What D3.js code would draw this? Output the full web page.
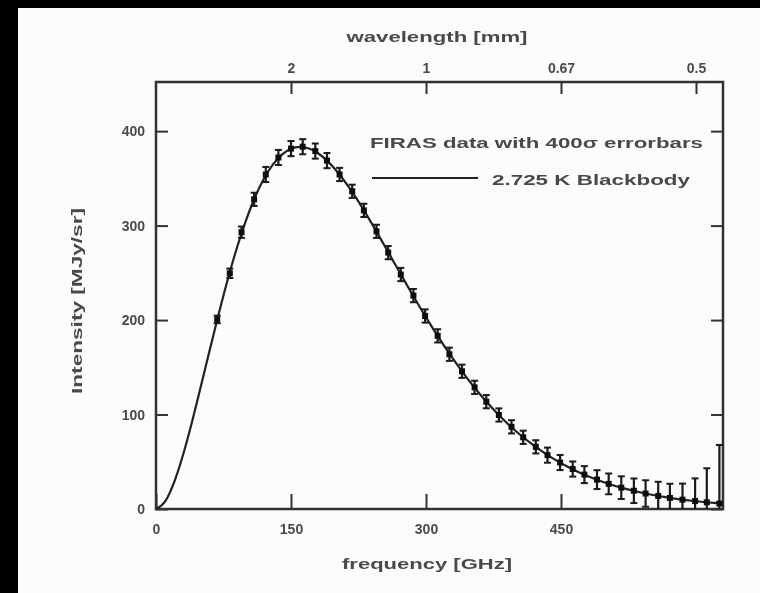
<!DOCTYPE html>
<html>
<head>
<meta charset="utf-8">
<script src="https://cdn.jsdelivr.net/npm/d3@7"></script>
<style>
  body { margin: 0; background: #000; }
  svg { display: block; }
  text { font-family: "Liberation Sans", Arial, sans-serif; font-weight: bold; fill: #4a4a4a; }
</style>
</head>
<body>
<div class="container"></div>
<script>
const width = 760;
const height = 593;
const margin = { top: 82, bottom: 84, left: 156, right: 37 }

// FIRAS points (GHz, MJy/sr) and 400 sigma error bars
const freqGHz = [68, 82, 95, 109, 122, 136, 150, 163, 177, 190, 204, 218, 231, 245, 258, 272, 286, 299, 313, 326, 340, 354, 367, 381, 395, 408, 422, 435, 449, 463, 476, 490, 503, 517, 531, 544, 558, 571, 585, 599, 612, 626];
const intensity = [200.7, 249.5, 293.0, 327.8, 354.1, 372.1, 381.5, 383.5, 378.9, 368.8, 354.1, 336.3, 316.1, 293.9, 271.4, 248.2, 225.9, 204.3, 183.3, 163.8, 145.8, 128.8, 113.6, 99.5, 87.0, 75.9, 65.8, 57.0, 49.2, 42.3, 36.4, 31.1, 26.6, 22.6, 19.3, 16.4, 13.8, 11.7, 9.9, 8.4, 7.1, 5.8];
const errorbar = [4, 5, 6, 7, 8, 8, 8, 8, 8, 8, 7, 7, 7, 7, 7, 7, 7, 7, 7, 7, 7, 7, 7, 7, 7, 7, 7, 8, 8, 8, 9, 10, 11, 12, 13, 14, 15, 15, 17, 24, 36, 62];

// 2.725 K blackbody line
const curveGHz = [0, 10, 20, 30, 40, 50, 60, 70, 80, 90, 100, 110, 120, 130, 140, 150, 160, 170, 180, 190, 200, 220, 240, 260, 280, 300, 320, 340, 360, 380, 400, 420, 440, 460, 480, 500, 520, 540, 560, 580, 600, 620, 630];
const curveI = [0, 7.7, 27.9, 57.1, 92.1, 130.4, 169.5, 207.8, 243.9, 276.8, 305.6, 330.0, 349.8, 364.8, 375.2, 381.3, 383.3, 381.6, 376.6, 368.8, 358.6, 332.7, 301.8, 268.5, 235.1, 202.8, 172.9, 145.7, 121.4, 100.4, 82.3, 67.0, 54.1, 43.5, 34.7, 27.6, 21.8, 17.2, 13.5, 10.5, 8.2, 6.4, 5.6];

const xTicks = [0, 150, 300, 450];
const yTicks = [0, 100, 200, 300, 400];
const topTicks = [150, 300, 450, 600];
const topLabels = ["2", "1", "0.67", "0.5"];

const points = freqGHz.map((f, i) => ({ f: f, v: intensity[i], e: errorbar[i] }))
const curve = curveGHz.map((f, i) => ({ f: f, v: curveI[i] }))

const innerW = width - margin.left - margin.right;
const innerH = height - margin.top - margin.bottom;

const xScale = d3.scaleLinear()
    .domain([0, 630])
    .range([0, innerW]);

const yScale = d3.scaleLinear()
    .domain([0, 452])
    .range([innerH, 0]);

const svg = d3.select(".container")
    .append("svg")
    .attr("width", width)
    .attr("height", height);

const defs = svg.append("defs")
defs.append("filter").attr("id", "soft")
    .append("feGaussianBlur").attr("stdDeviation", 0.6)
defs.append("clipPath").attr("id", "plotclip")
    .append("rect").attr("width", innerW).attr("height", innerH)

// white page on black background
svg.append("rect")
    .attr("x", 18).attr("y", 8)
    .attr("width", width - 18).attr("height", height - 8)
    .attr("fill", "#fcfcfc")

const page = svg.append("g").attr("filter", "url(#soft)")

const canvas = page.append("g")
    .attr("transform", `translate(${margin.left}, ${margin.top})`)

// axes with inward ticks
const xAxis = canvas.append("g")
    .attr("transform", `translate(0, ${innerH})`)
    .call(d3.axisBottom(xScale).tickValues(xTicks).tickSizeInner(-15).tickSizeOuter(0).tickPadding(15))

const topAxis = canvas.append("g")
    .call(d3.axisTop(xScale).tickValues(topTicks).tickFormat((d, i) => topLabels[i]).tickSizeInner(-12).tickSizeOuter(0).tickPadding(9))

const yAxis = canvas.append("g")
    .call(d3.axisLeft(yScale).tickValues(yTicks).tickSizeInner(-12).tickSizeOuter(0).tickPadding(11))

const rightAxis = canvas.append("g")
    .attr("transform", `translate(${innerW}, 0)`)
    .call(d3.axisRight(yScale).tickValues(yTicks).tickFormat("").tickSizeInner(-12).tickSizeOuter(0))

canvas.selectAll(".domain").remove()
canvas.selectAll(".tick line").attr("stroke", "#333").attr("stroke-width", 2)
canvas.selectAll(".tick text")
    .attr("font-size", "14px")
    .attr("font-family", "Liberation Sans, Arial, sans-serif")
    .attr("font-weight", "bold")
    .attr("fill", "#4a4a4a")

canvas.append("rect")
    .attr("width", innerW)
    .attr("height", innerH)
    .attr("fill", "none")
    .attr("stroke", "#333")
    .attr("stroke-width", 2.5)

// blackbody curve
const line = d3.line()
    .x(d => xScale(d.f))
    .y(d => yScale(d.v))
    .curve(d3.curveMonotoneX)

const plot = canvas.append("g").attr("clip-path", "url(#plotclip)")

plot.append("path")
    .datum(curve)
    .attr("d", line)
    .attr("fill", "none")
    .attr("stroke", "#222")
    .attr("stroke-width", 2.2)

// error bars
const bars = plot.selectAll(".bar")
    .data(points)
    .join("g")
    .attr("class", "bar")
    .attr("transform", d => `translate(${xScale(d.f)}, 0)`)

bars.append("line")
    .attr("y1", d => yScale(d.v + d.e))
    .attr("y2", d => yScale(d.v - d.e))
    .attr("stroke", "#1a1a1a")
    .attr("stroke-width", 2.2)

bars.append("line")
    .attr("x1", -3.5).attr("x2", 3.5)
    .attr("y1", d => yScale(d.v + d.e)).attr("y2", d => yScale(d.v + d.e))
    .attr("stroke", "#1a1a1a")
    .attr("stroke-width", 2)

bars.append("line")
    .attr("x1", -3.5).attr("x2", 3.5)
    .attr("y1", d => yScale(d.v - d.e)).attr("y2", d => yScale(d.v - d.e))
    .attr("stroke", "#1a1a1a")
    .attr("stroke-width", 2)

bars.append("rect")
    .attr("x", -3).attr("width", 6)
    .attr("y", d => yScale(d.v) - 3).attr("height", 6)
    .attr("fill", "#111")

// axis titles
page.append("text")
    .attr("x", 437).attr("y", 42)
    .attr("text-anchor", "middle")
    .attr("font-size", "15px")
    .attr("textLength", 181).attr("lengthAdjust", "spacingAndGlyphs")
    .text("wavelength [mm]")

page.append("text")
    .attr("x", 427).attr("y", 569)
    .attr("text-anchor", "middle")
    .attr("font-size", "15px")
    .attr("textLength", 170).attr("lengthAdjust", "spacingAndGlyphs")
    .text("frequency [GHz]")

page.append("text")
    .attr("transform", "translate(82, 301) rotate(-90)")
    .attr("text-anchor", "middle")
    .attr("font-size", "15px")
    .attr("textLength", 186).attr("lengthAdjust", "spacingAndGlyphs")
    .text("Intensity [MJy/sr]")

// legend
page.append("text")
    .attr("x", 370).attr("y", 148)
    .attr("font-size", "15px")
    .attr("textLength", 333).attr("lengthAdjust", "spacingAndGlyphs")
    .text("FIRAS data with 400σ errorbars")

page.append("line")
    .attr("x1", 372).attr("x2", 478)
    .attr("y1", 178).attr("y2", 178)
    .attr("stroke", "#222")
    .attr("stroke-width", 2)

page.append("text")
    .attr("x", 492).attr("y", 185)
    .attr("font-size", "15px")
    .attr("textLength", 198).attr("lengthAdjust", "spacingAndGlyphs")
    .text("2.725 K Blackbody")
</script>
</body>
</html>
